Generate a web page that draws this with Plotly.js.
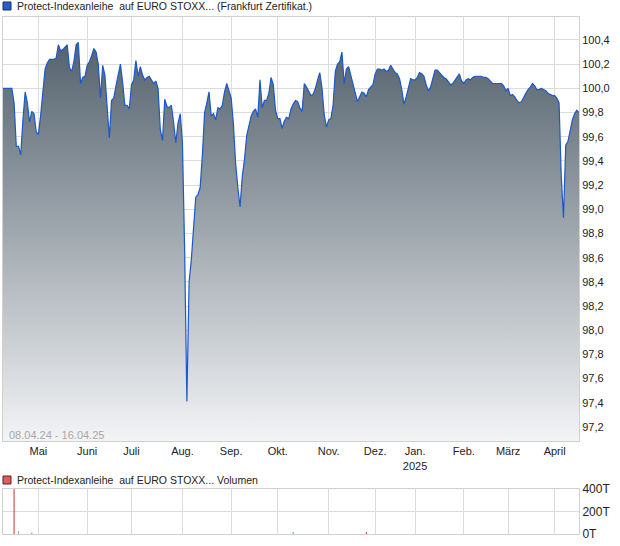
<!DOCTYPE html>
<html><head><meta charset="utf-8">
<script src="https://cdn.plot.ly/plotly-3.0.1.min.js"></script>
<style>html,body{margin:0;padding:0;background:#fff}#chart{width:620px;height:546px}</style>
</head><body><div id="chart"></div>
<script>
// exchange holidays (no trading days)
const holidays = ['2024-05-01','2024-12-24','2024-12-25','2024-12-26','2024-12-31','2025-01-01'];
const firstDay = '2024-04-08';

// daily closing prices, one array per month (trading days)
const apr24 = [100.00,100.00,100.00,100.00,100.00,100.00,99.88,99.52,99.52,99.45,99.74,99.97,99.88,99.72,99.81,99.79,99.64];
const may24 = [99.62,99.78,99.99,100.16,100.21,100.24,100.24,100.24,100.25,100.36,100.31,100.32,100.34,100.36,100.17,100.14,100.22,100.36,100.38,100.04,100.09,100.10];
const jun24 = [100.19,100.22,100.27,100.33,100.30,100.20,99.92,100.19,100.11,99.88,99.59,99.90,99.92,100.02,100.10,100.20,100.05,99.86,99.86,99.83];
const jul24 = [100.03,100.07,100.23,100.10,100.18,100.11,100.07,100.09,100.10,100.07,100.04,100.06,100.00,99.66,99.57,99.91,99.85,99.84,99.86,99.72,99.55,99.71,99.79];
const aug24 = [99.55,98.65,97.41,98.40,98.58,98.85,99.10,99.12,99.18,99.45,99.80,99.88,99.97,99.77,99.79,99.74,99.84,99.83,99.86,99.97,100.04,99.98];
const sep24 = [99.92,99.71,99.38,99.18,99.02,99.27,99.41,99.61,99.68,99.77,99.81,99.83,99.76,100.07,99.84,99.90,99.90,99.96,100.09,100.03,99.82];
const oct24 = [99.75,99.75,99.67,99.73,99.76,99.75,99.83,99.87,99.90,99.89,99.84,99.81,100.04,100.01,99.98,99.94,99.95,100.00,100.07,100.13,100.00,99.78,99.68];
const nov24 = [99.74,99.75,99.86,100.14,100.20,100.22,100.30,100.04,100.16,100.18,100.11,100.05,99.96,99.89,99.93,99.97,99.96,99.93,99.99,100.01,100.03];
const dec24 = [100.12,100.16,100.16,100.15,100.16,100.14,100.15,100.19,100.16,100.13,100.12,100.08,99.99,99.87,99.93,100.02,100.08,100.07];
const jan25 = [100.07,100.09,100.13,100.12,100.10,100.03,99.98,100.01,100.08,100.15,100.15,100.13,100.11,100.09,100.08,100.05,100.03,100.04,100.07,100.10,100.12,100.06];
const feb25 = [100.04,100.07,100.08,100.07,100.09,100.10,100.10,100.10,100.10,100.09,100.09,100.08,100.06,100.04,100.04,100.04,100.04,100.04,100.02,99.98];
const mar25 = [100.00,99.94,99.95,99.93,99.90,99.88,99.89,99.93,99.96,99.99,100.01,100.04,100.02,99.99,99.99,100.00,99.99,99.98,99.96,99.95,99.94];
const apr25 = [99.94,99.92,99.88,99.27,98.93,99.53,99.56,99.66,99.74,99.79,99.82,99.80];

// volume (thousands) on the few days with turnover
const volDates = ['2024-04-16','2024-04-18','2024-04-26','2024-10-10','2024-11-26'];
const volValues = [400, 27, 10, 15, 18];

// month ticks (first trading day of each month)
const tickDates = ['2024-05-02','2024-06-03','2024-07-01','2024-08-01','2024-09-02','2024-10-01','2024-11-01','2024-12-02','2025-01-02','2025-02-03','2025-03-03','2025-04-01'];
const tickLabels = ['Mai','Juni','Juli','Aug.','Sep.','Okt.','Nov.','Dez.','Jan.<br>2025','Feb.','März','April'];

const prices = [].concat(apr24,may24,jun24,jul24,aug24,sep24,oct24,nov24,dec24,jan25,feb25,mar25,apr25);

function tradingDays(startStr, n){
  const out=[]; const d=new Date(startStr+'T00:00:00Z');
  while(out.length<n){
    const wd=d.getUTCDay(); const s=d.toISOString().slice(0,10);
    if(wd!==0 && wd!==6 && holidays.indexOf(s)<0) out.push(s);
    d.setUTCDate(d.getUTCDate()+1);
  }
  return out;
}
const dates = tradingDays(firstDay, prices.length);
const lastDay = dates[dates.length-1];
const xRange = ['2024-04-09', lastDay];

// colour volume bars by price move of that day
const volColors = volDates.map(function(v){
  const i = dates.indexOf(v); const ch = prices[i]-prices[i-1];
  return ch>0 ? '#33cc33' : (ch<0 ? '#d04040' : '#aaaaaa');
});

const FONT = 'Liberation Sans, Arial, sans-serif';
const yMin = 97.084, yMax = 100.59;
const breaks = [{bounds:['sat','mon']},{values:holidays}];
const grid = '#dcdcdc';

const traces = [
  {x:dates, y:prices, type:'scatter', mode:'lines', xaxis:'x', yaxis:'y',
   line:{color:'#1c58c8', width:1.2},
   fill:'tozeroy',
   fillgradient:{type:'vertical', start:yMin, stop:yMax, colorscale:[[0,'#f3f4f6'],[1,'#4a5965']]},
   hoverinfo:'skip', showlegend:false},
  {x:volDates, y:volValues, type:'bar', xaxis:'x2', yaxis:'y2',
   width:0.5*86400000, marker:{color:volColors, line:{width:0}},
   hoverinfo:'skip', showlegend:false}
];

const layout = {
  width:620, height:546,
  margin:{l:3, r:41, t:17, b:12},
  paper_bgcolor:'#fff', plot_bgcolor:'#fff',
  separators:',.',
  font:{family:FONT, size:11, color:'#222'},
  showlegend:false,
  xaxis:{type:'date', range:xRange, rangebreaks:breaks,
    anchor:'y', tickvals:tickDates, ticktext:tickLabels, ticks:'',
    showgrid:true, gridcolor:grid, gridwidth:1,
    showline:true, linecolor:'#d0d0d0', mirror:true, zeroline:false,
    tickfont:{size:11, color:'#222'}},
  yaxis:{domain:[0.17988,1], range:[yMin,yMax], side:'right', anchor:'x',
    dtick:0.2, tick0:97.2, tickformat:'.1f', ticks:'',
    showgrid:true, gridcolor:grid, gridwidth:1, zeroline:false,
    showline:true, linecolor:'#d0d0d0', mirror:true,
    tickfont:{size:11, color:'#222'}},
  xaxis2:{type:'date', range:xRange, rangebreaks:breaks,
    anchor:'y2', tickvals:tickDates, showticklabels:false, ticks:'',
    showgrid:true, gridcolor:grid, showline:true, linecolor:'#d0d0d0', mirror:true, zeroline:false},
  yaxis2:{domain:[0,0.08704], range:[0,400], side:'right', anchor:'x2',
    tickvals:[0,200,400], ticktext:['0T','200T','400T'], ticks:'',
    showgrid:true, gridcolor:grid, zeroline:false,
    showline:true, linecolor:'#d0d0d0', mirror:true,
    tickfont:{size:12, color:'#222'}},
  shapes:[
    {type:'rect', xref:'paper', yref:'paper', xsizemode:'pixel', ysizemode:'pixel',
     xanchor:0, yanchor:1, x0:0, x1:8, y0:7, y1:15,
     fillcolor:'#2a5cc4', line:{color:'#1a2f6a', width:1}},
    {type:'rect', xref:'paper', yref:'paper', xsizemode:'pixel', ysizemode:'pixel',
     xanchor:0, yanchor:0.08704, x0:0, x1:8, y0:5, y1:13,
     fillcolor:'#d86060', line:{color:'#5a2020', width:1}}
  ],
  annotations:[
    {xref:'paper', yref:'paper', x:0, y:1, xshift:12, yshift:11, xanchor:'left', yanchor:'middle',
     text:'Protect-Indexanleihe \u00a0auf EURO STOXX... (Frankfurt Zertifikat.)', showarrow:false,
     font:{family:FONT, size:10.5, color:'#222'}},
    {xref:'paper', yref:'paper', x:0, y:0.08704, xshift:12, yshift:9, xanchor:'left', yanchor:'middle',
     text:'Protect-Indexanleihe \u00a0auf EURO STOXX... Volumen', showarrow:false,
     font:{family:FONT, size:10.5, color:'#222'}},
    {xref:'paper', yref:'paper', x:0, y:0.1915, xshift:4, xanchor:'left', yanchor:'middle',
     text:'08.04.24 - 16.04.25', showarrow:false,
     font:{family:FONT, size:11, color:'#a8a8a8'}}
  ]
};

Plotly.newPlot('chart', traces, layout, {staticPlot:true, displayModeBar:false});
</script>
</body></html>
